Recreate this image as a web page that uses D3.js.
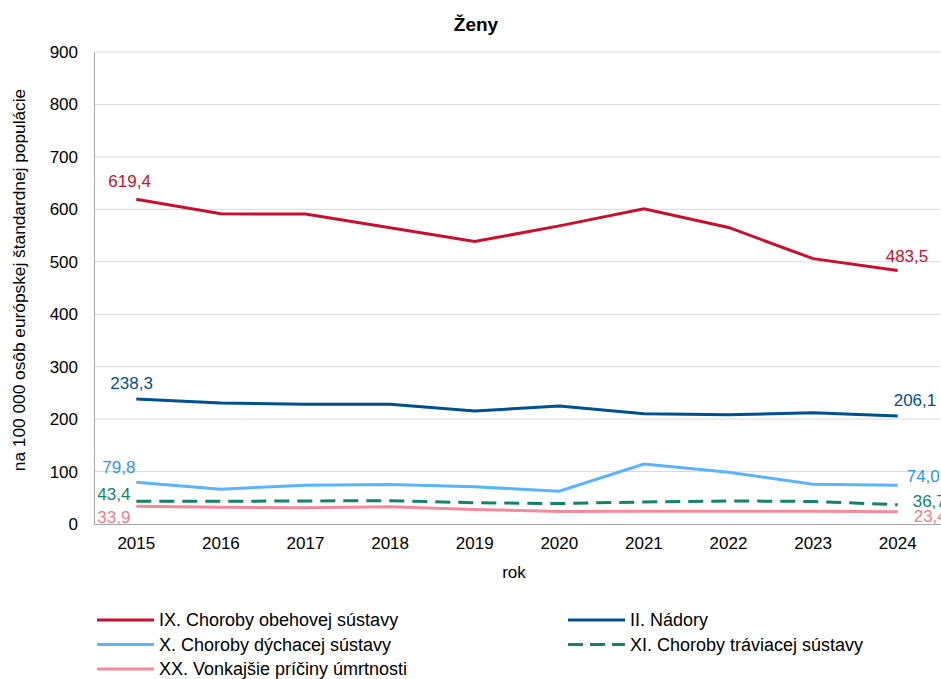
<!DOCTYPE html>
<html>
<head>
<meta charset="utf-8">
<script src="https://cdn.jsdelivr.net/npm/d3@7"></script>
<style>
  body { margin: 0; background: #fff; }
  svg text { font-family: "Liberation Sans", Arial, sans-serif; }
</style>
</head>
<body>
<div id="root"></div>
<script>
const years = ["2015", "2016", "2017", "2018", "2019", "2020", "2021", "2022", "2023", "2024"];

const obehova = [619.4, 591.5, 591.0, 565.0, 538.5, 568.5, 601.0, 565.5, 506.0, 483.5];
const nadory = [238.3, 230.5, 228.5, 228.5, 215.5, 225.0, 210.0, 208.5, 212.0, 206.1];
const dychacia = [79.8, 66.5, 74.0, 75.5, 71.0, 62.5, 114.5, 98.5, 76.0, 74.0];
const traviaca = [43.4, 43.2, 44.0, 44.5, 40.5, 39.0, 42.0, 44.0, 43.0, 36.7];
const vonkajsie = [33.9, 32.0, 31.0, 33.0, 27.5, 24.0, 24.5, 24.5, 24.5, 23.4];

const yTicks = [0, 100, 200, 300, 400, 500, 600, 700, 800, 900];

const series = [
  { name: "IX. Choroby obehovej sústavy", values: obehova, color: "#c8102e", text: "#c8102e", dash: null },
  { name: "II. Nádory", values: nadory, color: "#00508f", text: "#00508f", dash: null },
  { name: "X. Choroby dýchacej sústavy", values: dychacia, color: "#5ab4f8", text: "#2f96ec", dash: null },
  { name: "XI. Choroby tráviacej sústavy", values: traviaca, color: "#128469", text: "#128469", dash: "15,8" },
  { name: "XX. Vonkajšie príčiny úmrtnosti", values: vonkajsie, color: "#f48b9c", text: "#f27a90", dash: null }
];

const width = 941, height = 679;
const margin = { top: 52, right: 1, bottom: 155, left: 94 };

const svg = d3.select("#root")
  .append("svg")
    .attr("width", width)
    .attr("height", height);

const x = d3.scaleBand()
  .domain(years)
  .range([margin.left, width - margin.right]);

const y = d3.scaleLinear()
  .domain([0, 900])
  .range([height - margin.bottom, margin.top]);

const fmt = v => d3.format(".1f")(v).replace(".", ",");

// title
svg.append("text")
  .attr("x", 476).attr("y", 31)
  .attr("text-anchor", "middle")
  .style("font-size", "19px").style("font-weight", "bold")
  .text("Ženy");

// gridlines
svg.append("g")
  .selectAll("line")
  .data(yTicks.filter(d => d > 0))
  .join("line")
    .attr("x1", margin.left).attr("x2", width - margin.right)
    .attr("y1", d => y(d)).attr("y2", d => y(d))
    .attr("stroke", "#d9d9d9").attr("stroke-width", 1);

// y axis
const yAxis = svg.append("g")
  .attr("transform", `translate(${margin.left},0)`)
  .call(d3.axisLeft(y).tickValues(yTicks).tickSize(0).tickPadding(16).tickFormat(d3.format("d")));
yAxis.select(".domain").attr("stroke", "#a6a6a6");
yAxis.selectAll("text").style("font-size", "17px").attr("fill", "#000");

// x axis
const xAxis = svg.append("g")
  .attr("transform", `translate(0,${y(0)})`)
  .call(d3.axisBottom(x).tickSize(0).tickPadding(13));
xAxis.select(".domain").attr("stroke", "#a6a6a6");
xAxis.selectAll("text").style("font-size", "17px").attr("fill", "#000");

// axis titles
svg.append("text")
  .attr("x", 514).attr("y", 578)
  .attr("text-anchor", "middle")
  .style("font-size", "17px")
  .text("rok");

svg.append("text")
  .attr("transform", `translate(25,280) rotate(-90)`)
  .attr("text-anchor", "middle")
  .style("font-size", "17.3px")
  .text("na 100 000 osôb európskej štandardnej populácie");

// lines
const line = d3.line()
  .x((d, i) => x(years[i]) + x.bandwidth() / 2)
  .y(d => y(d));

svg.append("g")
  .selectAll("path")
  .data(series)
  .join("path")
    .attr("d", d => line(d.values))
    .attr("fill", "none")
    .attr("stroke", d => d.color)
    .attr("stroke-width", 3)
    .attr("stroke-dasharray", d => d.dash);

// first / last value labels (left edge offsets from the point)
const firstOffsets = [[-28, -12], [-26, -10], [-34, -9], [-39, -1], [-39, 16.5]];
const lastOffsets = [[-12, -8], [-4, -10], [9, -3], [15, 2], [16, 10.6]];

const labels = svg.append("g").style("font-size", "17px");
series.forEach((s, k) => {
  const x0 = x(years[0]) + x.bandwidth() / 2;
  const x1 = x(years[years.length - 1]) + x.bandwidth() / 2;
  labels.append("text")
    .attr("x", x0 + firstOffsets[k][0])
    .attr("y", y(s.values[0]) + firstOffsets[k][1])
    .attr("fill", s.text)
    .text(fmt(s.values[0]));
  labels.append("text")
    .attr("x", x1 + lastOffsets[k][0])
    .attr("y", y(s.values[s.values.length - 1]) + lastOffsets[k][1])
    .attr("fill", s.text)
    .text(fmt(s.values[s.values.length - 1]));
});

// legend
const legendPos = [[97, 620], [568, 620], [97, 644.5], [568, 644.5], [97, 669]];
const legend = svg.append("g")
  .selectAll("g")
  .data(series)
  .join("g")
    .attr("transform", (d, i) => `translate(${legendPos[i][0]},${legendPos[i][1]})`);

legend.append("line")
  .attr("x1", 0).attr("x2", 57)
  .attr("stroke", d => d.color)
  .attr("stroke-width", 3)
  .attr("stroke-dasharray", d => d.dash ? "15,7" : null);

legend.append("text")
  .attr("x", 62).attr("y", 6)
  .style("font-size", "18px")
  .text(d => d.name);
</script>
</body>
</html>
